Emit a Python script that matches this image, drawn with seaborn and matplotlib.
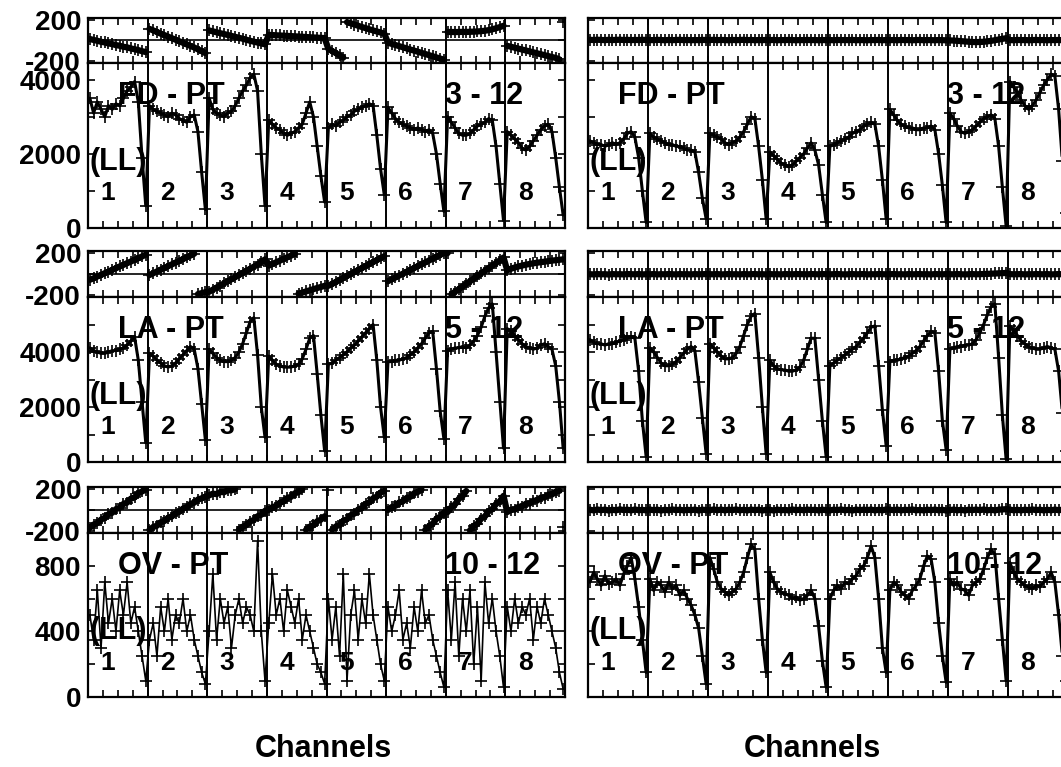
import numpy as np
import pandas as pd
import matplotlib
matplotlib.use("Agg")
import matplotlib.pyplot as plt
import seaborn as sns

sns.set_theme(style="white")
plt.rcParams['font.family'] = ['Liberation Sans', 'DejaVu Sans']
plt.rcParams['font.weight'] = 'bold'
plt.rcParams['axes.unicode_minus'] = False

N_CH = 16
segment_labels = ['1', '2', '3', '4', '5', '6', '7', '8']
baseline_titles = ['FD - PT', 'LA - PT', 'OV - PT']
baseline_ranges = ['3 - 12', '5 - 12', '10 - 12']
pol_label = '(LL)'
x_label = 'Channels'
amp_top = [4450, 6000, 1000]
amp_labels = [[0, 2000, 4000], [0, 2000, 4000], [0, 400, 800]]
amp_minor = [[1000, 3000], [1000, 3000, 5000], [200, 600, 1000]]
phase_labels = [-200, 200]

# ---------------- amplitudes ----------------
fd_amp_left = [
    [3500, 3100, 3400, 3200, 3000, 3300, 3200, 3350, 3300, 3500, 3700, 3800, 3950, 3400, 1900, 600],
    [3300, 3200, 3150, 3100, 3050, 3000, 3100, 3050, 2950, 2900, 2850, 3000, 3050, 2600, 1500, 500],
    [3500, 3200, 3100, 3050, 3000, 3100, 3150, 3300, 3500, 3700, 3850, 4050, 4150, 3700, 2000, 600],
    [2900, 2800, 2700, 2650, 2550, 2500, 2550, 2600, 2700, 2800, 3100, 3400, 3000, 2200, 1400, 700],
    [2700, 2800, 2750, 2850, 2900, 3000, 3050, 3150, 3200, 3250, 3300, 3350, 3300, 2500, 1600, 900],
    [3250, 3100, 2950, 2850, 2800, 2750, 2700, 2650, 2700, 2650, 2600, 2650, 2550, 2000, 1200, 450],
    [3000, 2850, 2700, 2550, 2500, 2500, 2550, 2650, 2750, 2800, 2850, 2950, 2900, 2200, 1200, 200],
    [2600, 2500, 2400, 2300, 2150, 2100, 2200, 2350, 2500, 2650, 2750, 2800, 2600, 1900, 1100, 350]]
fd_amp_right = [
    [2350, 2300, 2250, 2250, 2200, 2250, 2300, 2250, 2300, 2400, 2550, 2600, 2450, 1900, 1000, 150],
    [2550, 2450, 2400, 2350, 2300, 2250, 2250, 2200, 2200, 2150, 2100, 2100, 2050, 1500, 800, 250],
    [2550, 2500, 2450, 2400, 2300, 2250, 2300, 2350, 2450, 2600, 2800, 3000, 2950, 2200, 1300, 250],
    [2050, 1950, 1850, 1750, 1700, 1650, 1700, 1800, 1900, 2000, 2150, 2300, 2100, 1700, 900, 150],
    [2200, 2250, 2300, 2350, 2400, 2450, 2550, 2600, 2650, 2750, 2800, 2850, 2800, 2200, 1300, 250],
    [3200, 3050, 2900, 2800, 2750, 2700, 2700, 2650, 2650, 2700, 2700, 2750, 2650, 2000, 1150, 150],
    [3100, 2950, 2750, 2600, 2550, 2600, 2650, 2750, 2850, 2950, 3000, 3050, 2950, 2200, 1100, 50],
    [3950, 3800, 3650, 3450, 3300, 3200, 3300, 3450, 3650, 3850, 4000, 4150, 4100, 3200, 1800, 400]]
la_amp_left = [
    [4150, 4050, 4000, 3950, 3950, 4000, 4050, 4050, 4100, 4150, 4250, 4400, 4550, 3700, 2200, 700],
    [3950, 3850, 3700, 3600, 3500, 3450, 3500, 3600, 3750, 3900, 4050, 4200, 4100, 3400, 2100, 800],
    [4100, 3950, 3800, 3700, 3650, 3650, 3700, 3800, 4000, 4300, 4700, 5100, 5250, 3900, 2000, 900],
    [3850, 3700, 3550, 3500, 3450, 3450, 3450, 3500, 3550, 3750, 4100, 4500, 4600, 3200, 1700, 400],
    [3550, 3600, 3700, 3800, 3900, 4000, 4150, 4250, 4400, 4550, 4700, 4850, 5000, 3700, 2000, 900],
    [3650, 3650, 3700, 3700, 3750, 3800, 3900, 4000, 4150, 4300, 4500, 4700, 4750, 3400, 1850, 850],
    [4050, 4100, 4150, 4150, 4200, 4150, 4250, 4400, 4600, 4900, 5300, 5600, 5750, 4000, 2200, 500],
    [4850, 4750, 4600, 4450, 4300, 4200, 4150, 4100, 4150, 4250, 4300, 4200, 4100, 3500, 2200, 500]]
la_amp_right = [
    [4450, 4350, 4300, 4300, 4250, 4300, 4300, 4350, 4400, 4450, 4500, 4550, 4500, 3300, 1500, 200],
    [4150, 4000, 3800, 3600, 3500, 3500, 3550, 3650, 3800, 3950, 4100, 4200, 4050, 2900, 1600, 300],
    [4300, 4150, 4000, 3850, 3750, 3750, 3800, 3950, 4200, 4600, 5000, 5300, 5400, 3800, 2000, 300],
    [3700, 3500, 3400, 3350, 3350, 3300, 3300, 3350, 3450, 3700, 4100, 4500, 4500, 3000, 1500, 200],
    [3500, 3600, 3700, 3800, 3900, 4000, 4100, 4200, 4350, 4500, 4700, 4900, 4950, 3500, 1900, 600],
    [3650, 3700, 3700, 3750, 3800, 3850, 3950, 4050, 4200, 4400, 4600, 4750, 4700, 3300, 1500, 450],
    [4100, 4150, 4200, 4200, 4250, 4250, 4300, 4450, 4700, 5000, 5350, 5650, 5750, 3800, 1700, 100],
    [4950, 4800, 4600, 4400, 4300, 4200, 4150, 4100, 4100, 4150, 4200, 4150, 4100, 3300, 1800, 400]]
ov_amp_left = [
    [500, 350, 650, 300, 700, 450, 600, 400, 650, 500, 700, 450, 550, 400, 250, 100],
    [350, 450, 250, 550, 400, 600, 350, 500, 450, 600, 400, 500, 350, 250, 150, 80],
    [400, 750, 350, 600, 450, 550, 300, 500, 600, 450, 550, 500, 400, 950, 400, 100],
    [450, 750, 500, 600, 400, 650, 550, 450, 600, 350, 500, 400, 300, 200, 150, 80],
    [600, 350, 550, 250, 750, 100, 500, 650, 350, 600, 450, 750, 500, 350, 200, 100],
    [550, 400, 500, 650, 350, 450, 300, 550, 400, 650, 450, 500, 350, 250, 150, 60],
    [650, 350, 700, 250, 600, 400, 650, 200, 550, 100, 700, 450, 600, 400, 250, 60],
    [550, 400, 600, 450, 550, 500, 600, 350, 550, 450, 600, 500, 400, 300, 150, 50]]
ov_amp_right = [
    [700, 760, 720, 680, 740, 690, 700, 720, 680, 750, 800, 850, 720, 550, 350, 150],
    [720, 650, 700, 680, 640, 700, 660, 680, 620, 650, 600, 560, 500, 420, 250, 80],
    [850, 780, 700, 660, 640, 620, 640, 660, 700, 760, 850, 930, 900, 600, 350, 150],
    [760, 700, 660, 640, 630, 620, 600, 610, 590, 600, 620, 650, 600, 430, 220, 60],
    [600, 650, 680, 660, 700, 690, 720, 740, 780, 800, 850, 920, 850, 600, 300, 150],
    [650, 700, 680, 640, 620, 600, 650, 680, 720, 800, 860, 840, 700, 450, 250, 90],
    [720, 680, 700, 660, 650, 620, 680, 700, 720, 780, 850, 900, 870, 600, 350, 100],
    [820, 760, 720, 700, 680, 670, 660, 680, 670, 700, 720, 760, 700, 500, 250, 100]]

# ---------------- phases (degrees) ----------------
fd_phase_left = [
    [12, 3, -5, -15, -21, -31, -37, -47, -53, -63, -69, -79, -87, -95, -106, -114],
    [110, 95, 80, 64, 50, 35, 20, 5, -10, -25, -40, -55, -70, -88, -105, -125],
    [95, 86, 77, 68, 60, 51, 42, 33, 24, 15, 5, -5, -14, -22, -31, -39],
    [52, 50, 48, 46, 44, 42, 40, 38, 36, 34, 31, 29, 27, 25, 23, 21],
    [-84, -104, -124, -146, -168, 175, 164, 152, 140, 128, 117, 106, 95, 85, 75, 65],
    [-24, -35, -46, -57, -68, -79, -90, -100, -111, -122, -133, -144, -155, -166, -177, -188],
    [80, 80, 79, 80, 81, 80, 82, 83, 85, 88, 92, 98, 106, 116, 127, 140],
    [-54, -63, -72, -81, -90, -99, -108, -117, -126, -135, -144, -153, -162, -171, -185, 175]]
fd_phase_right = [
    [4, 2, 5, 3, 1, 4, 2, 3, 5, 2, 4, 1, 3, 2, 4, 3],
    [3, 1, 4, 2, 0, 3, 1, 2, 4, 1, 3, 0, 2, 1, 3, 2],
    [2, 4, 1, 3, 2, 0, 3, 1, 2, 4, 1, 3, 0, 2, 1, 3],
    [1, 3, 0, 2, 1, 3, 2, 0, 2, 1, 3, 1, 2, 0, 2, 1],
    [2, 0, 3, 1, 2, 1, 3, 0, 2, 1, 0, 2, 1, 3, 0, 2],
    [1, 2, 0, 3, 1, 2, 0, 1, 3, 0, 2, 1, 0, 2, 1, 0],
    [0, -3, -6, -9, -12, -15, -17, -18, -17, -15, -11, -6, 0, 7, 14, 20],
    [2, 0, 3, 1, 2, 0, 1, 3, 1, 2, 0, 2, 1, 3, 0, 2]]
la_phase_left = [
    [-55, -41, -24, -9, 8, 23, 40, 55, 72, 87, 104, 119, 136, 151, 168, 185],
    [-10, 7, 24, 41, 58, 75, 92, 109, 126, 143, 160, 177, 194, -192, -183, -174],
    [-170, -150, -130, -110, -90, -70, -50, -30, -10, 10, 30, 50, 70, 90, 115, 140],
    [80, 96, 112, 128, 144, 160, 176, 192, -188, -178, -167, -156, -145, -134, -124, -113],
    [-113, -95, -76, -57, -38, -19, 0, 19, 38, 57, 76, 95, 114, 133, 152, 170],
    [-69, -51, -33, -15, 3, 21, 39, 57, 75, 93, 111, 129, 147, 165, 183, 200],
    [200, -195, -170, -145, -120, -95, -70, -45, -20, 5, 30, 55, 80, 105, 130, 158],
    [35, 50, 62, 72, 81, 89, 96, 102, 108, 113, 118, 123, 128, 132, 136, 140]]
la_phase_right = [
    [-2, -4, -1, -3, -2, -5, -1, -3, -2, -4, -1, -2, -3, -1, -4, -2],
    [-3, -1, -4, -2, -3, -1, -2, -4, -1, -3, -2, -4, -1, -3, -2, -1],
    [-2, -3, -1, -4, -2, -1, -3, -2, -4, -1, -3, -2, -1, -3, -2, -4],
    [-1, -3, -2, -4, -1, -2, -3, -1, -2, -4, -3, -1, -2, -3, -1, -2],
    [-3, -2, -1, -3, -4, -2, -1, -3, -2, -1, -4, -2, -3, -1, -2, -3],
    [-2, -1, -3, -2, -4, -1, -3, -2, -1, -3, -2, -4, -1, -2, -3, -1],
    [-2, -3, -1, -2, -4, -2, -1, -3, -2, 0, 1, 3, 5, 7, 9, 10],
    [-1, -3, -2, -1, -4, -2, -3, -1, -2, -3, -1, -4, -2, -1, -3, -2]]
ov_phase_left = [
    [-170, -140, -125, -92, -74, -41, -26, 8, 22, 58, 71, 108, 121, 158, 178, 195],
    [-190, -162, -150, -118, -106, -74, -62, -30, -18, 14, 26, 58, 70, 100, 112, 128],
    [140, 156, 152, 172, 170, 190, 188, 200, -190, -160, -145, -110, -95, -60, -45, -8],
    [0, 28, 38, 70, 82, 116, 126, 160, 170, 198, -190, -160, -145, -108, -92, -60],
    [195, -190, -158, -140, -104, -88, -50, -34, 4, 20, 58, 74, 112, 128, 166, 185],
    [0, 28, 40, 72, 82, 116, 126, 160, 172, 196, -190, -154, -131, -84, -64, -25],
    [-20, 26, 54, 106, 134, 182, -195, -152, -132, -82, -62, -12, 8, 58, 82, 135],
    [-20, 2, 3, 31, 32, 60, 61, 89, 90, 118, 119, 147, 148, 176, 183, -160]]
ov_phase_right = [
    [3, -4, 5, -2, 4, -5, 2, -3, 6, -1, 3, -4, 5, -2, 1, -3],
    [4, -2, 3, -5, 2, -3, 5, -1, 3, -4, 2, -2, 4, -5, 3, -1],
    [-3, 5, -2, 4, -4, 3, -1, 5, -3, 2, -4, 4, -2, 3, -5, 2],
    [2, -5, 4, -3, 1, -4, 5, -2, 3, -3, 4, -1, 2, -4, 3, -2],
    [-4, 3, -1, 5, -3, 2, -5, 4, -2, 3, -1, 4, -4, 2, -3, 5],
    [3, -2, 4, -4, 2, -1, 5, -3, 1, -4, 3, -2, 4, -3, 2, -5],
    [-2, 4, -3, 2, -5, 3, -1, 4, -2, 5, -3, 2, -4, 3, 6, 8],
    [4, -3, 2, -4, 3, -2, 5, -1, 3, -4, 2, -3, 4, -2, 3, -1]]

panel_amp = [[fd_amp_left, fd_amp_right], [la_amp_left, la_amp_right], [ov_amp_left, ov_amp_right]]
panel_phase = [[fd_phase_left, fd_phase_right], [la_phase_left, la_phase_right],
               [ov_phase_left, ov_phase_right]]
# the OV-PT left amplitude is a noisy trace drawn with a thinner line
amp_linewidth = [[2.2, 2.2], [2.2, 2.2], [1.2, 2.2]]

# ---------------- layout (pixels of the 1061x767 canvas) ----------------
W, H = 1061, 767
col_px = [(88, 477), (588, 480)]
row_px = [(17.5, 63, 228), (251, 297, 462), (487, 533, 697)]
xlabel_px = [(323, 749), (812, 749)]

fig = plt.figure(figsize=(W / 100, H / 100), dpi=100)
fig.patch.set_facecolor('white')

n_tot = 8 * N_CH
xlim = (-0.5, n_tot - 0.5)
quarter_ticks = np.arange(0, n_tot + 1, N_CH / 4) - 0.5
dividers = np.arange(1, 8) * N_CH - 0.5
TICK_FS = 20


def style_axes(ax, show_left):
    ax.set_facecolor('white')
    for sp in ax.spines.values():
        sp.set_color('black')
        sp.set_linewidth(1.6)
    ax.set_xticks(quarter_ticks)
    ax.set_xticklabels([])
    ax.set_xlim(*xlim)
    ax.tick_params(axis='both', which='both', direction='in', top=True, right=True,
                   bottom=True, left=True, color='black', width=1.2, length=5,
                   labelbottom=False, labelleft=show_left, labelsize=TICK_FS,
                   labelcolor='black', pad=5)
    for d in dividers:
        ax.axvline(d, color='black', lw=1.4, zorder=1.5)
    ax.set_xlabel('')
    ax.set_ylabel('')
    ax.grid(False)


ch = np.arange(n_tot)
for r in range(3):
    top, mid, bot = row_px[r]
    for c in range(2):
        x0, wpx = col_px[c]
        axp = fig.add_axes([x0 / W, 1 - mid / H, wpx / W, (mid - top) / H])
        axa = fig.add_axes([x0 / W, 1 - bot / H, wpx / W, (bot - mid) / H])

        # amplitude
        amp = np.concatenate([np.asarray(s, float) for s in panel_amp[r][c]])
        dfa = pd.DataFrame({'channel': ch, 'amp': amp})
        sns.lineplot(data=dfa, x='channel', y='amp', ax=axa, estimator=None, sort=False,
                     color='black', lw=amp_linewidth[r][c], marker='+', markersize=8,
                     markeredgewidth=1.2, markeredgecolor='black', zorder=3)
        # phase: break the line where it wraps
        ph = np.concatenate([np.asarray(s, float) for s in panel_phase[r][c]])
        run = np.concatenate([[0], np.cumsum(np.abs(np.diff(ph)) > 180)])
        dfp = pd.DataFrame({'channel': ch, 'phase': ph, 'run': run})
        sns.lineplot(data=dfp, x='channel', y='phase', units='run', ax=axp, estimator=None,
                     sort=False, color='black', lw=4.5, marker='+', markersize=8,
                     markeredgewidth=1.2, markeredgecolor='black', zorder=3)

        style_axes(axa, c == 0)
        style_axes(axp, c == 0)
        axp.axhline(0, color='black', lw=1.2, zorder=1.5)

        axa.set_yticks(amp_labels[r])
        axa.set_yticklabels([str(v) for v in amp_labels[r]])
        axa.set_yticks(amp_minor[r], minor=True)
        axa.set_ylim(0, amp_top[r])
        axp.set_yticks(phase_labels)
        axp.set_yticklabels([str(v) for v in phase_labels])
        axp.set_yticks([0], minor=True)
        axp.set_ylim(-220, 220)
        for lab in axa.get_yticklabels() + axp.get_yticklabels():
            lab.set_fontweight('bold')

        # annotations
        axa.text(0.062, 0.80, baseline_titles[r], transform=axa.transAxes, ha='left',
                 va='center', fontsize=22, fontweight='bold', color='black', zorder=1)
        axa.text(0.748, 0.80, baseline_ranges[r], transform=axa.transAxes, ha='left',
                 va='center', fontsize=22, fontweight='bold', color='black', zorder=1)
        axa.text(0.004, 0.40, pol_label, transform=axa.transAxes, ha='left',
                 va='center', fontsize=22, fontweight='bold', color='black', zorder=1)
        for k, lab in enumerate(segment_labels):
            axa.text((k + 0.33) / 8, 0.21, lab, transform=axa.transAxes, ha='center',
                     va='center', fontsize=19, fontweight='bold', color='black', zorder=1)

for (xp, yp) in xlabel_px:
    fig.text(xp / W, 1 - yp / H, x_label, ha='center', va='center', fontsize=22,
             fontweight='bold', color='black')

fig.savefig('out.png', dpi=100, facecolor='white')
